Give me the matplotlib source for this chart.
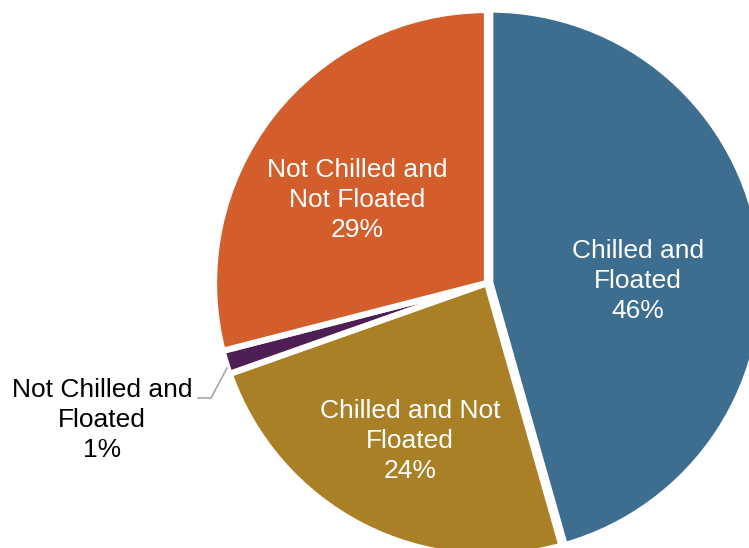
import matplotlib.pyplot as plt

plt.rcParams['font.family'] = ['Liberation Sans', 'DejaVu Sans']

# data
categories = ['Chilled and\nFloated', 'Chilled and Not\nFloated',
              'Not Chilled and\nFloated', 'Not Chilled and\nNot Floated']
shares = [45.6, 24.0, 1.4, 29.0]
colors = ['#3D6E8F', '#AA8026', '#4E1E55', '#D35D2B']

W, H = 749, 548
cx, cy, R = 487, 283, 273  # pie centre and radius in pixels


def px(x, y):
    # pixel position -> data coords (pie radius = 1)
    return (x - cx) / R, (cy - y) / R


fig = plt.figure(figsize=(W / 100, H / 100), dpi=100)
ax = fig.add_axes([0, 0, 1, 1])

wedges, _ = ax.pie(shares, colors=colors, startangle=90, counterclock=False,
                   radius=1, explode=[0.012, 0, 0, 0],
                   wedgeprops=dict(edgecolor='white', linewidth=4.5))

# labels
label_pos = [(638, 281), (410, 441), (102, 420), (357, 200)]
label_col = ['white', 'white', 'black', 'white']
for cat, val, (x, y), c in zip(categories, shares, label_pos, label_col):
    ax.text(*px(x, y), f'{cat}\n{round(val)}%', ha='center', va='center',
            fontsize=19, color=c, linespacing=1.32)

# leader line for the small slice
lx, ly = zip(px(198, 398), px(211, 398), px(227, 368))
ax.plot(lx, ly, color='#A6A6A6', lw=1.2)

ax.set_xlim(px(0, 0)[0], px(W, 0)[0])
ax.set_ylim(px(0, H)[1], px(0, 0)[1])
ax.set_aspect('equal')
ax.axis('off')

fig.savefig('out.png', dpi=100, facecolor='white')
